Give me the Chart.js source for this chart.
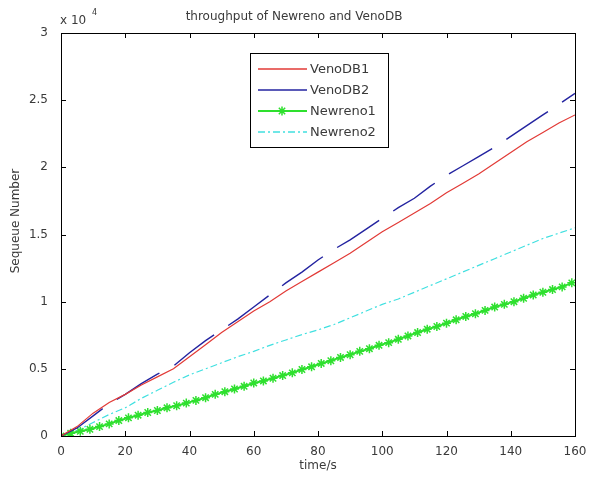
<!DOCTYPE html>
<html>
<head>
<meta charset="utf-8">
<title>throughput of Newreno and VenoDB</title>
<script src="https://cdn.jsdelivr.net/npm/chart.js@4/dist/chart.umd.min.js"></script>
<style>
  html, body { margin: 0; padding: 0; background: #ffffff; }
  #wrap { position: relative; width: 589px; height: 478px; }
</style>
</head>
<body>
<div id="wrap"><canvas id="throughput-chart" width="589" height="478"></canvas></div>
<script>
// time (s) for the sampled curves
const timeCoarse = [0, 5, 10, 15, 20, 25, 30, 35, 40, 45, 50, 55, 60, 65, 70, 75, 80,
  85, 90, 95, 100, 105, 110, 115, 120, 125, 130, 135, 140, 145, 150, 155, 160];

// time (s) for Newreno1 (the one with markers)
const timeFine = [0, 3, 6, 9, 12, 15, 18, 21, 24, 27, 30, 33, 36, 39, 42, 45, 48, 51,
  54, 57, 60, 63, 66, 69, 72, 75, 78, 81, 84, 87, 90, 93, 96, 99, 102, 105, 108, 111,
  114, 117, 120, 123, 126, 129, 132, 135, 138, 141, 144, 147, 150, 153, 156, 159];

// sequence numbers
const venoDB1 = [0, 700, 1700, 2500, 3100, 3800, 4400, 5000, 5900, 6800, 7700, 8500, 9300,
  10000, 10800, 11500, 12200, 12900, 13600, 14400, 15200, 15900, 16600, 17300, 18100,
  18800, 19500, 20300, 21100, 21900, 22600, 23300, 23900];

const venoDB2 = [0, 600, 1500, 2400, 3100, 3900, 4600, 5200, 6200, 7100, 7900, 8700, 9600,
  10500, 11400, 12200, 13100, 13900, 14600, 15400, 16200, 17000, 17700, 18600, 19400,
  20100, 20800, 21500, 22300, 23100, 23900, 24700, 25500];

const newreno2 = [0, 400, 1000, 1600, 2100, 2800, 3400, 4000, 4550, 5000, 5450, 5900, 6300,
  6750, 7150, 7550, 7900, 8300, 8800, 9300, 9800, 10200, 10700, 11200, 11700, 12200,
  12700, 13200, 13700, 14200, 14700, 15100, 15500];

const newreno1 = [0, 200, 350, 500, 700, 900, 1150, 1350, 1550, 1750, 1900, 2100, 2250,
  2450, 2650, 2850, 3100, 3300, 3500, 3700, 3950, 4100, 4300, 4500, 4700, 4950, 5150,
  5400, 5600, 5850, 6050, 6300, 6500, 6750, 6950, 7200, 7450, 7700, 7950, 8150, 8400,
  8650, 8900, 9100, 9350, 9600, 9800, 10000, 10250, 10500, 10700, 10900, 11100, 11400];

const seriesNames = ['VenoDB1', 'VenoDB2', 'Newreno1', 'Newreno2'];
const xTicks = [0, 20, 40, 60, 80, 100, 120, 140, 160];
const yTicks = [0, 5000, 10000, 15000, 20000, 25000, 30000];

document.addEventListener('DOMContentLoaded', () => {

  /* ========================================================
     1. DATASETS
     ======================================================== */
  const toPoints = (xs, ys) => ys.map((y, i) => ({ x: xs[i], y: y }));
  const textColor = '#3a3a3a';
  const fontFamily = "'DejaVu Sans', sans-serif";

  const datasets = [
    {
      label: seriesNames[0],
      data: toPoints(timeCoarse, venoDB1),
      borderColor: '#e23a36',
      borderWidth: 1.2,
      pointRadius: 0
    },
    {
      label: seriesNames[1],
      data: toPoints(timeCoarse, venoDB2),
      borderColor: '#2323a0',
      borderWidth: 1.4,
      borderDash: [50, 17],
      pointRadius: 0
    },
    {
      label: seriesNames[2],
      data: toPoints(timeFine, newreno1),
      borderColor: '#2ee02e',
      backgroundColor: '#2ee02e',
      borderWidth: 2,
      pointStyle: 'star',
      pointRadius: 4.5,
      pointBorderWidth: 1.5
    },
    {
      label: seriesNames[3],
      data: toPoints(timeCoarse, newreno2),
      borderColor: '#40e0e0',
      borderWidth: 1.2,
      borderDash: [7, 3, 2, 3],
      pointRadius: 0
    }
  ];

  /* ========================================================
     2. MATLAB-STYLE FRAME, TICKS, LABELS AND LEGEND
     ======================================================== */
  const matlabFrame = {
    id: 'matlabFrame',
    afterDraw(chart) {
      const { ctx, chartArea, scales } = chart;
      const { left, right, top, bottom } = chartArea;
      ctx.save();

      // box round the axes
      ctx.strokeStyle = '#000000';
      ctx.lineWidth = 1;
      ctx.strokeRect(Math.round(left) + 0.5, Math.round(top) + 0.5,
        Math.round(right - left), Math.round(bottom - top));

      // inward ticks on all four sides
      const tickLen = 5;
      ctx.beginPath();
      xTicks.forEach(v => {
        const px = Math.round(scales.x.getPixelForValue(v)) + 0.5;
        ctx.moveTo(px, bottom); ctx.lineTo(px, bottom - tickLen);
        ctx.moveTo(px, top); ctx.lineTo(px, top + tickLen);
      });
      yTicks.forEach(v => {
        const py = Math.round(scales.y.getPixelForValue(v)) + 0.5;
        ctx.moveTo(left, py); ctx.lineTo(left + tickLen, py);
        ctx.moveTo(right, py); ctx.lineTo(right - tickLen, py);
      });
      ctx.stroke();

      // title, exponent, axis titles
      ctx.fillStyle = textColor;
      ctx.font = `12px ${fontFamily}`;
      ctx.textAlign = 'center';
      ctx.textBaseline = 'middle';
      ctx.fillText('throughput of Newreno and VenoDB', 294, 17);
      ctx.fillText('time/s', 318, 466);

      ctx.textAlign = 'left';
      ctx.fillText('x 10', 60, 21);
      ctx.font = `8px ${fontFamily}`;
      ctx.fillText('4', 92, 13);

      ctx.font = `12px ${fontFamily}`;
      ctx.translate(16, 221);
      ctx.rotate(-Math.PI / 2);
      ctx.textAlign = 'center';
      ctx.fillText('Sequeue Number', 0, 0);
      ctx.setTransform(1, 0, 0, 1, 0, 0);

      // legend box inside the axes
      ctx.fillStyle = '#ffffff';
      ctx.fillRect(250, 53, 138, 94);
      ctx.strokeStyle = '#000000';
      ctx.lineWidth = 1;
      ctx.strokeRect(250.5, 53.5, 138, 94);

      const rows = [69, 90, 111, 132];
      chart.data.datasets.forEach((ds, i) => {
        const y = rows[i];
        ctx.beginPath();
        ctx.strokeStyle = ds.borderColor;
        ctx.lineWidth = Math.max(ds.borderWidth, 1.6);
        ctx.setLineDash(ds.borderDash || []);
        ctx.moveTo(258, y);
        ctx.lineTo(307, y);
        ctx.stroke();
        ctx.setLineDash([]);
        if (ds.pointRadius > 0) {
          ctx.lineWidth = ds.pointBorderWidth;
          ctx.fillStyle = ds.backgroundColor;
          Chart.helpers.drawPoint(ctx, {
            pointStyle: ds.pointStyle,
            radius: ds.pointRadius,
            borderWidth: ds.pointBorderWidth
          }, 282, y);
        }
        ctx.fillStyle = textColor;
        ctx.font = `13px ${fontFamily}`;
        ctx.textAlign = 'left';
        ctx.textBaseline = 'middle';
        ctx.fillText(ds.label, 310, rows[i] + 1);
      });

      ctx.restore();
    }
  };

  /* ========================================================
     3. CHART
     ======================================================== */
  const canvasEl = document.getElementById('throughput-chart');
  const ctx = canvasEl.getContext('2d');

  new Chart(ctx, {
    type: 'line',
    data: { datasets: datasets },
    options: {
      responsive: false,
      animation: false,
      layout: {
        padding: { left: 0, right: 14, top: 33, bottom: 0 }
      },
      elements: {
        line: { tension: 0, fill: false }
      },
      plugins: {
        legend: { display: false },
        title: { display: false },
        tooltip: { enabled: false }
      },
      scales: {
        x: {
          type: 'linear',
          min: 0,
          max: 160,
          afterFit: scale => { scale.height = 42; },
          afterBuildTicks: scale => { scale.ticks = xTicks.map(v => ({ value: v })); },
          grid: { display: false },
          border: { display: false },
          ticks: {
            padding: 1,
            maxRotation: 0,
            color: textColor,
            font: { family: fontFamily, size: 12 }
          }
        },
        y: {
          type: 'linear',
          min: 0,
          max: 30000,
          afterFit: scale => { scale.width = 61; },
          afterBuildTicks: scale => { scale.ticks = yTicks.map(v => ({ value: v })); },
          grid: { display: false },
          border: { display: false },
          ticks: {
            padding: 5,
            color: textColor,
            font: { family: fontFamily, size: 12 },
            callback: v => String(v / 10000)
          }
        }
      }
    },
    plugins: [matlabFrame]
  });

});
</script>
</body>
</html>
